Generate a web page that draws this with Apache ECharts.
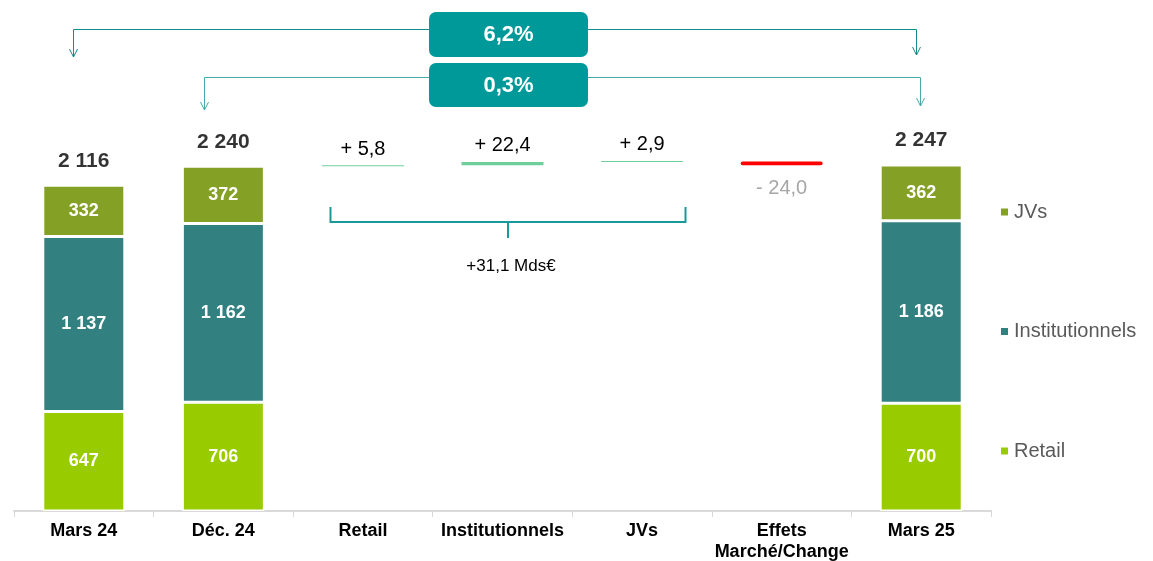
<!DOCTYPE html>
<html>
<head>
<meta charset="utf-8">
<script src="https://cdn.jsdelivr.net/npm/echarts@6/dist/echarts.min.js"></script>
<style>
html,body{margin:0;padding:0;background:#fff;}
#chart{width:1153px;height:561px;}
</style>
</head>
<body>
<div id="chart"></div>
<script>
// ---- data ----
const categories = ['Mars 24', 'Déc. 24', 'Retail', 'Institutionnels', 'JVs', 'Effets\nMarché/Change', 'Mars 25'];
const retail = [647, 706, '-', '-', '-', '-', 700];
const institutionnels = [1137, 1162, '-', '-', '-', '-', 1186];
const jvs = [332, 372, '-', '-', '-', '-', 362];
const totals = [2116, 2240, '-', '-', '-', '-', 2247];
const deltas = ['-', '-', 5.8, 22.4, 2.9, -24.0, '-'];

const FONT = '"Liberation Sans", Arial, sans-serif';
const fmtThousands = v => String(v).replace(/\B(?=(\d{3})+(?!\d))/g, ' ');
const fmtDec = v => Math.abs(v).toFixed(1).replace('.', ',');

// waterfall build from deltas
let run = totals[1];
const base = [], delta = [];
deltas.forEach(d => {
  if (d === '-') { base.push('-'); delta.push('-'); return; }
  if (d >= 0) { base.push(run); delta.push({value: d, raw: d}); run += d; }
  else { run += d; base.push(run); delta.push({value: -d, raw: d}); }
});
const positiveSum = deltas.filter(d => d !== '-' && d > 0).reduce((a, b) => a + b, 0);
const growthYear = (totals[6] / totals[0] - 1) * 100;
const growthQuarter = (totals[6] / totals[1] - 1) * 100;

const segLabel = {show: true, position: 'inside', color: '#fff', fontWeight: 'bold', fontSize: 18, fontFamily: FONT,
                  formatter: p => fmtThousands(p.value)};
const barW = 82;

const chart = echarts.init(document.getElementById('chart'), null, {renderer: 'canvas'});
chart.setOption({
  animation: false,
  backgroundColor: '#fff',
  grid: {left: 14, right: 162, top: 0, bottom: 50, containLabel: false, outerBoundsMode: 'none'},
  legend: {
    orient: 'vertical', left: 999, top: 202, itemGap: 99.5, padding: 0,
    itemWidth: 9, itemHeight: 9, icon: 'rect',
    data: ['JVs', 'Institutionnels', 'Retail'],
    textStyle: {color: '#595959', fontSize: 20, fontFamily: FONT}
  },
  xAxis: {
    type: 'category', data: categories,
    axisLine: {lineStyle: {color: '#d9d9d9', width: 2}},
    axisTick: {show: true, length: 6, lineStyle: {color: '#d9d9d9', width: 1}},
    axisLabel: {color: '#000', fontWeight: 'bold', fontSize: 18, fontFamily: FONT, margin: 10, lineHeight: 21, interval: 0}
  },
  yAxis: {type: 'value', min: 0, max: 3320, show: false, splitLine: {show: false}},
  series: [
    {name: 'Retail', type: 'bar', stack: 'all', barWidth: barW, data: retail,
     itemStyle: {color: '#99cc00', borderColor: '#fff', borderWidth: 1.5}, label: segLabel},
    {name: 'Institutionnels', type: 'bar', stack: 'all', barWidth: barW, data: institutionnels,
     itemStyle: {color: '#338080', borderColor: '#fff', borderWidth: 1.5}, label: segLabel},
    {name: 'JVs', type: 'bar', stack: 'all', barWidth: barW, data: jvs,
     itemStyle: {color: '#84a125', borderColor: '#fff', borderWidth: 1.5}, label: segLabel},
    {name: 'base', type: 'bar', stack: 'all', barWidth: barW, data: base,
     itemStyle: {color: 'transparent'}, silent: true, label: {show: false}},
    {name: 'delta', type: 'bar', stack: 'all', barWidth: barW, barMinHeight: 1,
     data: delta.map(d => {
       if (d === '-') return '-';
       const neg = d.raw < 0;
       return {
         value: d.value,
         itemStyle: neg ? {color: '#ff0000', borderColor: '#ff0000', borderWidth: 2.5, borderRadius: 3} : {color: '#6fcf9b'},
         label: {show: true, position: neg ? 'bottom' : 'top', distance: neg ? 13 : 6,
                 color: neg ? '#a6a6a6' : '#000', fontSize: 20, fontFamily: FONT,
                 formatter: (neg ? '- ' : '+ ') + fmtDec(d.raw)}
       };
     })},
    {name: 'total', type: 'scatter', data: totals, symbolSize: 0, itemStyle: {color: 'transparent'},
     label: {show: true, position: 'top', distance: 14, color: '#000', fontWeight: 'bold', fontSize: 21, fontFamily: FONT,
             formatter: p => fmtThousands(p.value)}}
  ]
});

// annotations placed relative to the category positions
const px = i => Math.round(chart.convertToPixel({xAxisIndex: 0}, categories[i])) + 0.5;
const c0 = px(0), c1 = px(1), c2 = px(2), c4 = px(4), c6 = px(6);
const teal = '#178a8a', teal2 = '#4aa8a8';
const arrowHead = (x, y, color) => ({type: 'polyline', shape: {points: [[x - 4, y - 8], [x, y], [x + 4, y - 8]]}, style: {stroke: color, lineWidth: 1, fill: null}});
const bx = 429, bw = 159;
const brL = c2 - 33, brR = c4 + 43, brM = Math.round((brL + brR) / 2);
chart.setOption({
  graphic: [
    {type: 'polyline', shape: {points: [[c0 - 11, 57], [c0 - 11, 29.5], [c6 - 5, 29.5], [c6 - 5, 55]]}, style: {stroke: teal, lineWidth: 1, fill: null}},
    arrowHead(c0 - 11, 57, teal), arrowHead(c6 - 5, 55, teal),
    {type: 'polyline', shape: {points: [[c1 - 19, 110], [c1 - 19, 77.5], [c6 - 1, 77.5], [c6 - 1, 106]]}, style: {stroke: teal2, lineWidth: 1, fill: null}},
    arrowHead(c1 - 19, 110, teal2), arrowHead(c6 - 1, 106, teal2),
    {type: 'rect', shape: {x: bx, y: 12, width: bw, height: 45, r: 7}, style: {fill: '#009999'}},
    {type: 'text', x: bx + bw / 2, y: 35, style: {text: fmtDec(growthYear) + '%', fill: '#fff', font: 'bold 22px ' + FONT, textAlign: 'center', textVerticalAlign: 'middle'}},
    {type: 'rect', shape: {x: bx, y: 63, width: bw, height: 44, r: 7}, style: {fill: '#009999'}},
    {type: 'text', x: bx + bw / 2, y: 86, style: {text: fmtDec(growthQuarter) + '%', fill: '#fff', font: 'bold 22px ' + FONT, textAlign: 'center', textVerticalAlign: 'middle'}},
    {type: 'polyline', shape: {points: [[brL, 207], [brL, 222], [brR, 222], [brR, 207]]}, style: {stroke: '#1a9999', lineWidth: 2, fill: null}},
    {type: 'line', shape: {x1: brM, y1: 222, x2: brM, y2: 238}, style: {stroke: '#1a9999', lineWidth: 2}},
    {type: 'text', x: brM + 3, y: 266, style: {text: '+' + fmtDec(positiveSum) + ' Mds€', fill: '#000', font: '17px ' + FONT, textAlign: 'center', textVerticalAlign: 'middle'}}
  ]
});
</script>
</body>
</html>
